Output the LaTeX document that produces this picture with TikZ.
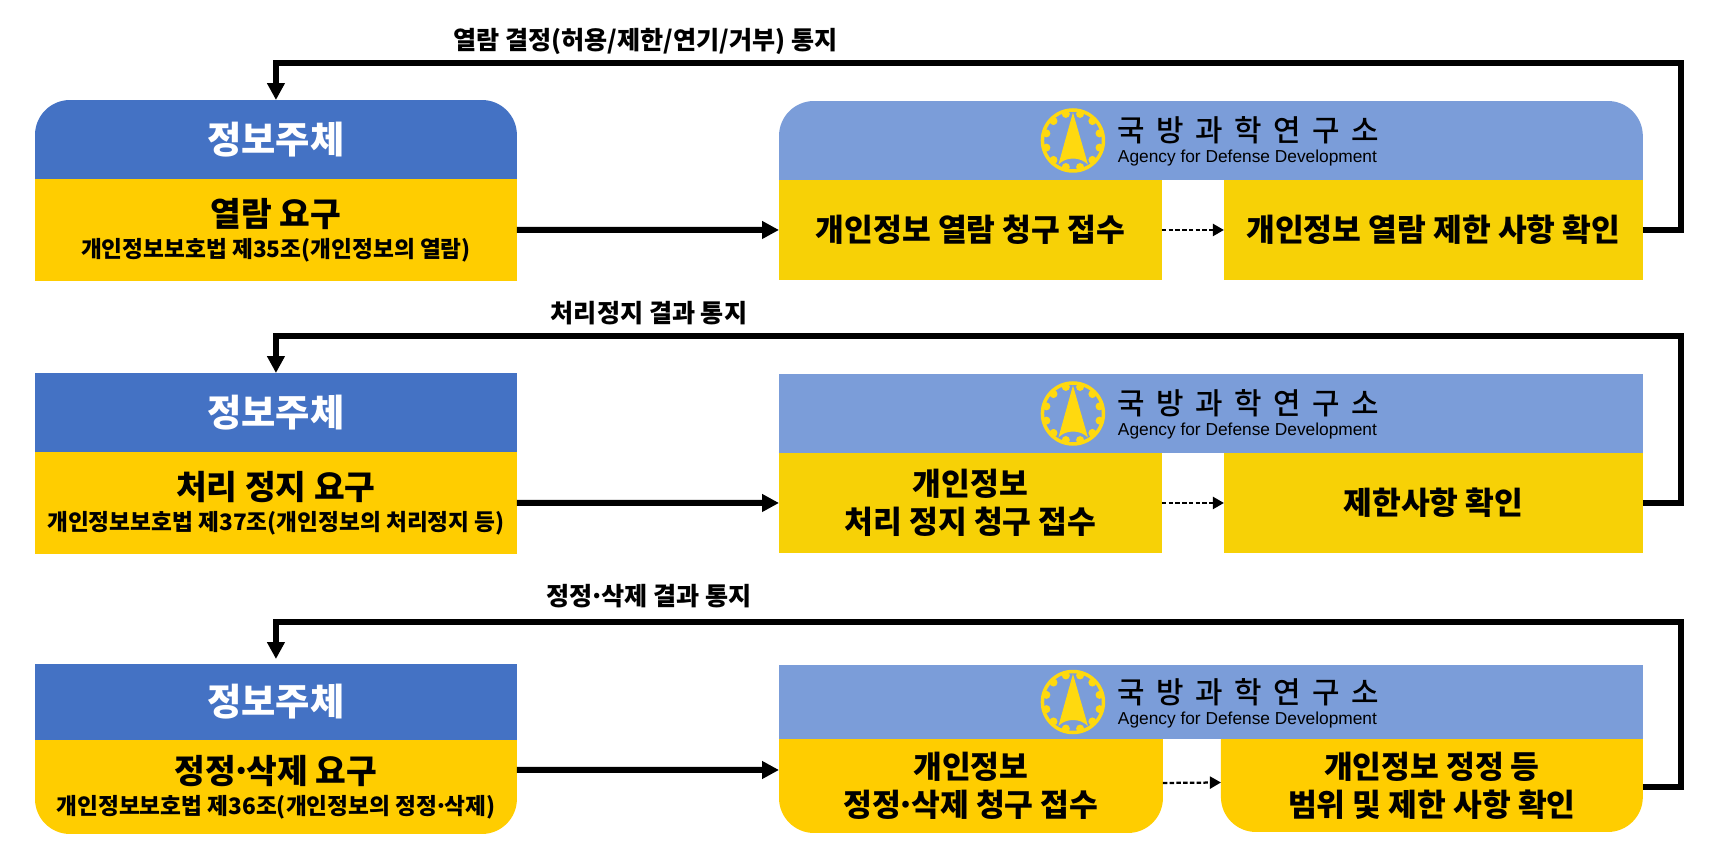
\documentclass[tikz,border=0pt]{standalone}
\usepackage{fontspec}
\setmainfont{Noto Sans CJK KR}
\newfontfamily\arialfont{Liberation Sans}
\newfontfamily\logofont{Noto Sans CJK KR Medium}
\usetikzlibrary{positioning,arrows.meta,backgrounds}
\definecolor{subjblue}{HTML}{4472C4}
\definecolor{agencyblue}{HTML}{7B9DD9}
\definecolor{reqyellow}{HTML}{FFCD00}
\definecolor{recvyellow}{HTML}{F7D106}
\definecolor{logoyellow}{HTML}{FFD90F}
\tikzset{
	flatbox/.style={inner sep=0pt, outer sep=0pt, align=center},
	mainarrow/.style={line width=0.12cm, -{Triangle[length=0.34cm,width=0.34cm]}},
	nextarrow/.style={line width=0.045cm, dash pattern=on 0.09cm off 0.045cm, -{Triangle[length=0.22cm,width=0.24cm]}},
	titlefont/.style={font=\fontsize{21.2}{24}\selectfont\bfseries, text=white},
	reqfont/.style={font=\fontsize{19}{23}\selectfont\bfseries},
	stepfont/.style={font=\fontsize{17.8}{21.5}\selectfont\bfseries},
	notefont/.style={font=\fontsize{14.3}{16}\selectfont\bfseries},
	adologo/.pic={
		\draw[logoyellow, line width=0.07cm] (0,0) circle (30.5);
		\foreach \ang in {15,45,...,345}
			\fill[logoyellow] (\ang:27.5) circle (4);
		\fill[logoyellow] (0,-28) -- (15,24) .. controls (7,16) and (-7,16) .. (-14.5,24) -- cycle;
		\node[flatbox, font=\logofont\fontsize{17}{20}\selectfont, anchor=west] (-kr) at (45,-10) {\spaceskip=6.5pt 국 방 과 학 연 구 소};
		\node[flatbox, font=\arialfont\fontsize{9.86}{12}\selectfont, anchor=west] (-en) at (45,18) {Agency for Defense Development};
	}
}
% narrow middle dot, one-line step text sits a little high
\newcommand{\middot}{\kern-0.14em·\kern-0.14em}
\newcommand{\highline}[1]{\raisebox{0.06cm}{#1}}
\newcommand{\lawline}[1]{\\[-5.5pt]{\fontsize{12.9}{16}\selectfont #1}}
% fills a box whose top or bottom corners are round
\newcommand{\filltop}[2]{\fill[#2] (#1.south west) [rounded corners=0.7cm] -- (#1.north west) -- (#1.north east) [sharp corners] -- (#1.south east) -- cycle;}
\newcommand{\fillbottom}[2]{\fill[#2] (#1.north west) [rounded corners=0.7cm] -- (#1.south west) -- (#1.south east) [sharp corners] -- (#1.north east) -- cycle;}
\begin{document}
\begin{tikzpicture}[x=0.02cm,y=-0.02cm]
	\useasboundingbox (0,0) rectangle (1730,862);

	% first row
	\node[flatbox, titlefont, minimum width=9.64cm, minimum height=1.58cm, anchor=north west] (subja) at (35,100) {정보주체};
	\node[flatbox, reqfont, fill=reqyellow, minimum width=9.64cm, minimum height=2.04cm, below=0pt of subja] (reqa) {열람 요구\lawline{개인정보보호법 제35조(개인정보의 열람)}};
	\node[flatbox, minimum width=17.28cm, minimum height=1.58cm, anchor=north west] (addra) at (779,101) {};
	\node[flatbox, stepfont, fill=recvyellow, minimum width=7.66cm, minimum height=2cm, anchor=north west] (recva) at (addra.south west) {\highline{개인정보 열람 청구 접수}};
	\node[flatbox, stepfont, fill=recvyellow, minimum width=8.38cm, minimum height=2cm, anchor=north east] (chka) at (addra.south east) {\highline{개인정보 열람 제한 사항 확인}};
	\pic (logoa) at ([xshift=-2.76cm]addra.center) {adologo};
	\node[flatbox, notefont] (notea) at (645.5,41) {열람 결정(허용/제한/연기/거부) 통지};
	\coordinate (backa) at (1681,63);

	% second row
	\node[flatbox, titlefont, fill=subjblue, minimum width=9.64cm, minimum height=1.58cm, anchor=north west] (subjb) at (35,373) {정보주체};
	\node[flatbox, reqfont, fill=reqyellow, minimum width=9.64cm, minimum height=2.04cm, below=0pt of subjb] (reqb) {처리 정지 요구\lawline{개인정보보호법 제37조(개인정보의 처리정지 등)}};
	\node[flatbox, fill=agencyblue, minimum width=17.28cm, minimum height=1.58cm, anchor=north west] (addrb) at (779,374) {};
	\node[flatbox, stepfont, fill=recvyellow, minimum width=7.66cm, minimum height=2cm, anchor=north west] (recvb) at (addrb.south west) {개인정보\\처리 정지 청구 접수};
	\node[flatbox, stepfont, fill=recvyellow, minimum width=8.38cm, minimum height=2cm, anchor=north east] (chkb) at (addrb.south east) {\highline{제한사항 확인}};
	\pic (logob) at ([xshift=-2.76cm]addrb.center) {adologo};
	\node[flatbox, notefont] (noteb) at (649,313) {처리정지 결과 통지};
	\coordinate (backb) at (1681,336);

	% third row
	\node[flatbox, titlefont, fill=subjblue, minimum width=9.64cm, minimum height=1.52cm, anchor=north west] (subjc) at (35,664) {정보주체};
	\node[flatbox, reqfont, minimum width=9.64cm, minimum height=1.88cm, below=0pt of subjc] (reqc) {정정\middot 삭제 요구\lawline{개인정보보호법 제36조(개인정보의 정정\middot 삭제)}};
	\node[flatbox, fill=agencyblue, minimum width=17.28cm, minimum height=1.48cm, anchor=north west] (addrc) at (779,665) {};
	\node[flatbox, stepfont, minimum width=7.68cm, minimum height=1.88cm, anchor=north west] (recvc) at (addrc.south west) {개인정보\\정정\middot 삭제 청구 접수};
	\node[flatbox, stepfont, minimum width=8.44cm, minimum height=1.86cm, anchor=north east] (chkc) at (addrc.south east) {개인정보 정정 등\\범위 및 제한 사항 확인};
	\pic (logoc) at ([xshift=-2.76cm]addrc.center) {adologo};
	\node[flatbox, notefont] (notec) at (649,596) {정정\middot 삭제 결과 통지};
	\coordinate (backc) at (1681,622);

	% round fills go behind the text
	\begin{scope}[on background layer]
		\fill[white] (0,0) rectangle (1730,862);
		\filltop{subja}{subjblue}
		\filltop{addra}{agencyblue}
		\fillbottom{reqc}{reqyellow}
		\fillbottom{recvc}{reqyellow}
		\fillbottom{chkc}{reqyellow}
	\end{scope}

	\draw[mainarrow] (reqa.east) -- (recva.west);
	\draw[nextarrow] (recva.east) -- (chka.west);
	\draw[mainarrow] (chka.east) -| (backa) -| (subja.north);

	\draw[mainarrow] (reqb.east) -- (recvb.west);
	\draw[nextarrow] (recvb.east) -- (chkb.west);
	\draw[mainarrow] (chkb.east) -| (backb) -| (subjb.north);

	\draw[mainarrow] ([yshift=0.34cm]reqc.east) -- ([yshift=0.32cm]recvc.west);
	\draw[nextarrow] ([yshift=0.06cm]recvc.east) -- ([yshift=0.06cm]chkc.west);
	\draw[mainarrow, shorten >=0.1cm] ([yshift=-0.04cm]chkc.east) -| (backc) -| (subjc.north);
\end{tikzpicture}
\end{document}
